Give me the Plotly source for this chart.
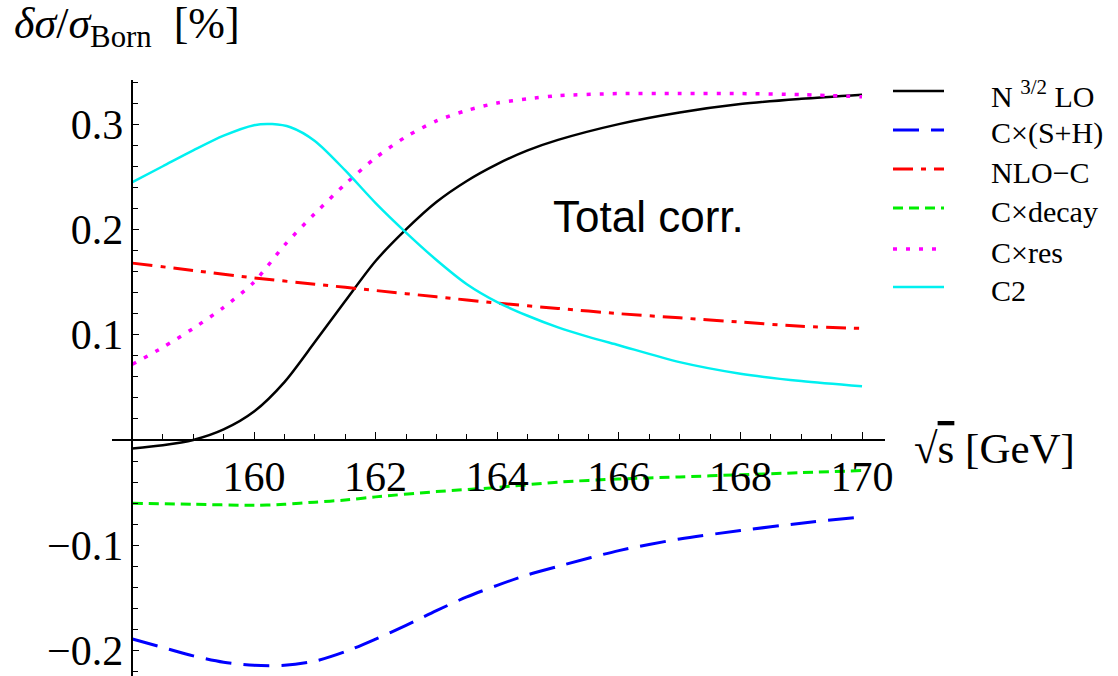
import plotly.graph_objects as go

# ---------------- data ----------------
x_black = [158, 158.5, 159, 159.5, 160, 160.5, 161, 161.5, 162, 162.5, 163, 163.5, 164, 164.5, 165, 166, 167, 168, 169, 170]
y_black = [-0.008, -0.005, 0.0, 0.01, 0.027, 0.055, 0.093, 0.132, 0.170, 0.200, 0.226, 0.246, 0.262, 0.275, 0.285, 0.300, 0.311, 0.319, 0.324, 0.328]

x_blue = [158, 158.5, 159, 159.5, 160, 160.5, 161, 161.5, 162, 162.5, 163, 163.5, 164, 164.5, 165, 166, 167, 168, 169, 170]
y_blue = [-0.189, -0.197, -0.205, -0.211, -0.214, -0.214, -0.210, -0.201, -0.189, -0.176, -0.162, -0.149, -0.138, -0.128, -0.120, -0.105, -0.094, -0.086, -0.079, -0.073]

x_red = [158, 159, 160, 161, 162, 163, 164, 165, 166, 167, 168, 169, 170]
y_red = [0.168, 0.161, 0.154, 0.148, 0.142, 0.136, 0.130, 0.125, 0.120, 0.116, 0.112, 0.108, 0.106]

x_green = [158, 159, 160, 160.5, 161, 161.5, 162, 163, 164, 165, 166, 167, 168, 169, 170]
y_green = [-0.060, -0.061, -0.062, -0.061, -0.059, -0.057, -0.054, -0.049, -0.045, -0.040, -0.037, -0.035, -0.033, -0.031, -0.029]

x_mag = [158, 158.5, 159, 159.5, 160, 160.5, 161, 161.5, 162, 162.5, 163, 163.5, 164, 164.5, 165, 166, 167, 168, 169, 170]
y_mag = [0.072, 0.088, 0.106, 0.126, 0.150, 0.185, 0.215, 0.243, 0.268, 0.288, 0.303, 0.313, 0.320, 0.324, 0.327, 0.329, 0.329, 0.329, 0.328, 0.326]

x_cyan = [158, 158.5, 159, 159.5, 160, 160.3, 160.6, 161, 161.5, 162, 162.5, 163, 163.5, 164, 164.5, 165, 165.5, 166, 167, 168, 169, 170]
y_cyan = [0.245, 0.260, 0.275, 0.289, 0.299, 0.300, 0.297, 0.284, 0.256, 0.225, 0.197, 0.171, 0.148, 0.131, 0.118, 0.107, 0.098, 0.090, 0.074, 0.063, 0.056, 0.051]

series_names = ["N <sup>3/2</sup> LO", "C×(S+H)", "NLO−C", "C×decay", "C×res", "C2"]

x_ticks = [160, 162, 164, 166, 168, 170]
y_ticks = [-0.2, -0.1, 0.1, 0.2, 0.3]
y_ticklabels = ["−0.2", "−0.1", "0.1", "0.2", "0.3"]

# ---------------- layout geometry ----------------
W, H = 1118, 676
ML, MR, MT, MB = 112, 233, 80, 0
XR = [157.664, 170.378]
YR = [-0.2241, 0.3419]
pw = W - ML - MR
ph = H - MT - MB

def px2paper_x(p):
    return (p - ML) / pw

def py2paper_y(p):
    return (H - MB - p) / ph

styles = [
    dict(color="#000000", width=2.5, dash="solid"),
    dict(color="#0000ff", width=3, dash="26px,12px"),
    dict(color="#ff0000", width=3, dash="20px,8px,5px,8px"),
    dict(color="#00ee00", width=3, dash="10px,6px"),
    dict(color="#ff00ff", width=3.5, dash="4px,9px"),
    dict(color="#00f0f0", width=2.5, dash="solid"),
]
data_x = [x_black, x_blue, x_red, x_green, x_mag, x_cyan]
data_y = [y_black, y_blue, y_red, y_green, y_mag, y_cyan]

fig = go.Figure()
for name, xs, ys, st in zip(series_names, data_x, data_y, styles):
    fig.add_trace(go.Scatter(x=xs, y=ys, mode="lines", name=name,
                             line=dict(color=st["color"], width=st["width"], dash=st["dash"], shape="spline", smoothing=0.8),
                             showlegend=False))

serif = "Liberation Serif"

# custom legend
leg_y = [91, 130, 169, 208, 249, 287]
shapes = []
annotations = []
for name, st, ly in zip(series_names, styles, leg_y):
    shapes.append(dict(type="line", xref="paper", yref="paper",
                       x0=px2paper_x(893), x1=px2paper_x(944),
                       y0=py2paper_y(ly), y1=py2paper_y(ly),
                       line=dict(color=st["color"], width=st["width"], dash=st["dash"])))
    annotations.append(dict(text=name, xref="paper", yref="paper",
                            x=px2paper_x(989), y=py2paper_y(ly + 3),
                            xanchor="left", yanchor="middle", showarrow=False,
                            font=dict(family=serif, size=30, color="black")))

annotations.append(dict(text="<i>δσ</i>/<i>σ</i><sub>Born</sub>  [%]", xref="paper", yref="paper",
                        x=px2paper_x(12), y=py2paper_y(27), xanchor="left", yanchor="middle",
                        showarrow=False, font=dict(family=serif, size=44, color="black")))
annotations.append(dict(text="√<span style='text-decoration:overline'>s</span> [GeV]", xref="paper", yref="paper",
                        x=px2paper_x(912), y=py2paper_y(448), xanchor="left", yanchor="middle",
                        showarrow=False, font=dict(family=serif, size=43, color="black")))
annotations.append(dict(text="Total corr.", xref="x", yref="y",
                        x=166.48, y=0.212, xanchor="center", yanchor="middle",
                        showarrow=False, font=dict(family="Liberation Sans", size=44, color="black")))

xpos = (0 - YR[0]) / (YR[1] - YR[0])
ypos = (158 - XR[0]) / (XR[1] - XR[0])

fig.update_layout(
    width=W, height=H,
    margin=dict(l=ML, r=MR, t=MT, b=MB, pad=0, autoexpand=False),
    paper_bgcolor="white", plot_bgcolor="white",
    shapes=shapes, annotations=annotations,
    xaxis=dict(range=XR, anchor="free", position=xpos, showgrid=False, zeroline=False, automargin=False,
               showline=True, linecolor="black", linewidth=1.5,
               tickvals=x_ticks, ticktext=[str(v) for v in x_ticks],
               ticks="inside", ticklen=7, tickwidth=1.2, tickcolor="black",
               minor=dict(dtick=0.5, tick0=158, ticks="inside", ticklen=5, tickwidth=1.2, tickcolor="black"),
               tickfont=dict(family=serif, size=42, color="black")),
    yaxis=dict(range=YR, anchor="free", position=ypos, showgrid=False, zeroline=False, automargin=False,
               showline=True, linecolor="black", linewidth=1.5,
               tickvals=y_ticks, ticktext=y_ticklabels,
               ticks="inside", ticklen=6, tickwidth=1.2, tickcolor="black",
               minor=dict(dtick=0.02, tick0=0, ticks="inside", ticklen=5, tickwidth=1.2, tickcolor="black"),
               tickfont=dict(family=serif, size=42, color="black")),
)

fig.write_html("out.html", config={"displayModeBar": False},
               post_script="document.body.style.margin='0';document.body.style.overflow='hidden';")
